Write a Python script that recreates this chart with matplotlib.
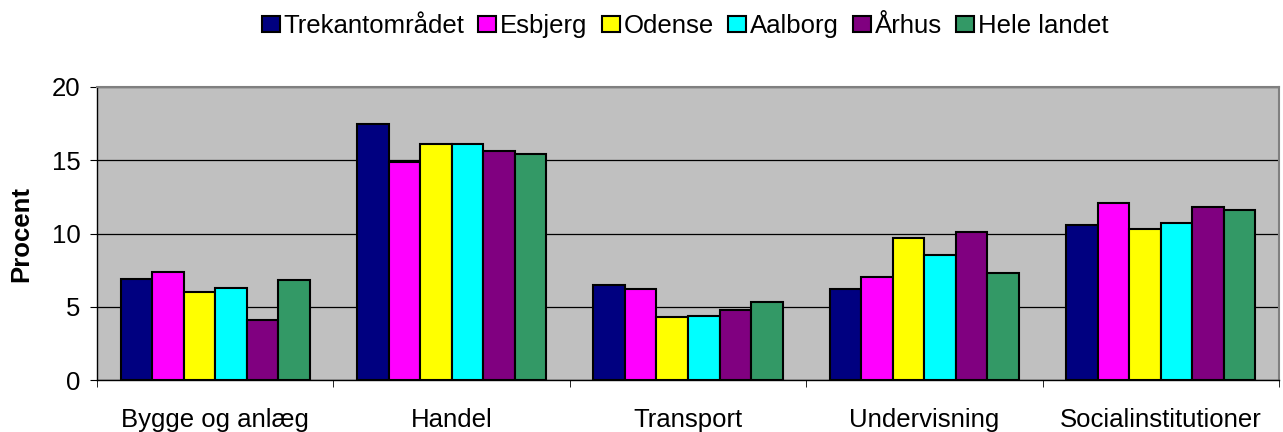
import numpy as np
import matplotlib.pyplot as plt

plt.rcParams['font.family'] = ['Liberation Sans', 'DejaVu Sans']

categories = ['Bygge og anlæg', 'Handel', 'Transport', 'Undervisning', 'Socialinstitutioner']
series_names = ['Trekantområdet', 'Esbjerg', 'Odense', 'Aalborg', 'Århus', 'Hele landet']
trekant = [6.9, 17.5, 6.5, 6.2, 10.6]
esbjerg = [7.4, 14.9, 6.2, 7.0, 12.1]
odense = [6.0, 16.1, 4.3, 9.7, 10.3]
aalborg = [6.3, 16.1, 4.4, 8.5, 10.7]
aarhus = [4.1, 15.6, 4.8, 10.1, 11.8]
hele_landet = [6.8, 15.4, 5.3, 7.3, 11.6]
colors = ['#000080', '#FF00FF', '#FFFF00', '#00FFFF', '#800080', '#339966']

series = [trekant, esbjerg, odense, aalborg, aarhus, hele_landet]

fig = plt.figure(figsize=(12.83, 4.32), dpi=100)
ax = fig.add_axes([97 / 1283, 52 / 432, 1182 / 1283, 293 / 432])
ax.set_facecolor('#C0C0C0')

n = len(series)
width = 1 / (n + 1.5)
x = np.arange(len(categories))
for i, (vals, name, c) in enumerate(zip(series, series_names, colors)):
    offs = (i - (n - 1) / 2) * width
    ax.bar(x + offs, vals, width, color=c, edgecolor='black', linewidth=1.5,
           label=name, zorder=3)

ax.set_xlim(-0.5, len(categories) - 0.5)
ax.set_ylim(0, 20)
ax.set_yticks([0, 5, 10, 15, 20])
ax.yaxis.grid(True, color='black', linewidth=0.9, zorder=1)
ax.set_xticks(x)
ax.set_xticklabels(categories, fontsize=18.5)
ax.set_xticks(np.arange(len(categories) + 1) - 0.5, minor=True)
ax.tick_params(axis='x', which='major', length=0, pad=20)
ax.tick_params(axis='x', which='minor', length=5, direction='out', color='black')
ax.tick_params(axis='y', length=5, direction='out', labelsize=18.5, pad=7)
ax.set_ylabel('Procent', fontsize=18.5, fontweight='bold')
ax.yaxis.set_label_coords(-0.054, 0.5)

for s in ['top', 'right']:
    ax.spines[s].set_color('#808080')
    ax.spines[s].set_linewidth(1.5)
for s in ['left', 'bottom']:
    ax.spines[s].set_color('black')
    ax.spines[s].set_linewidth(1.0)

fig.legend(loc='center', bbox_to_anchor=(685 / 1283, 1 - 26 / 432), ncol=6,
           frameon=False, fontsize=18.5, handlelength=0.7, handleheight=0.6,
           handletextpad=0.15, columnspacing=0.55, borderaxespad=0)

fig.savefig('out.png', dpi=100)
